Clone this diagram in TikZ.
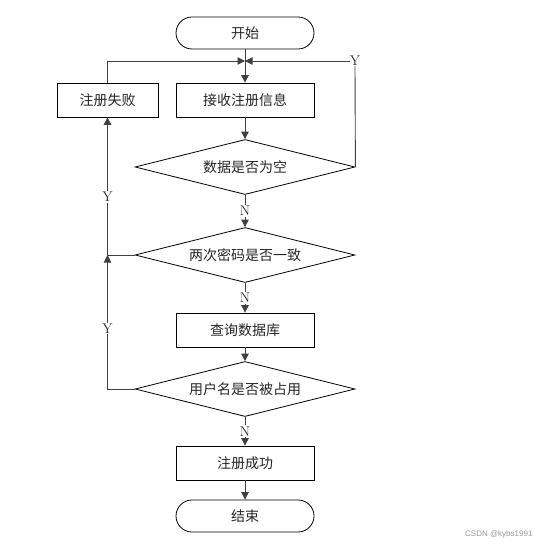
\documentclass[tikz,border=0pt]{standalone}
\usepackage{fontspec}
\newfontfamily\cjk{Noto Sans CJK SC}
\newfontfamily\wm{Liberation Sans}
\usetikzlibrary{shapes.geometric,arrows.meta}
\tikzset{
  base/.style={draw=black, line width=0.8pt, font=\cjk\fontsize{14}{16}\selectfont, text=black!85, inner sep=0pt},
  term/.style={base, rounded corners=16pt, minimum width=138pt, minimum height=32pt},
  proc/.style={base, rectangle, minimum width=138pt, minimum height=34pt},
  procs/.style={base, rectangle, minimum width=101pt, minimum height=34pt},
  dec/.style={base, diamond, aspect=4, minimum width=220pt, minimum height=55pt},
  conn/.style={draw=black!75, line width=0.9pt},
  arr/.style={conn, -{Triangle[length=7.5pt,width=7.5pt]}},
  lab/.style={font=\fontsize{14}{16}\selectfont, fill=white, inner sep=1pt, text=black!85},
}
\begin{document}
\begin{tikzpicture}[x=1pt,y=-1pt]
\useasboundingbox (0,0) rectangle (538,545);
\node[term] (start) at (245,33) {开始};
\coordinate (j1) at (245,61);
\node[proc] (recv) at (245,100) {接收注册信息};
\node[procs] (fail) at (107.5,100) {注册失败};
\node[dec] (d1) at (245,167) {数据是否为空};
\node[dec] (d2) at (245,255) {两次密码是否一致};
\node[proc] (query) at (245,330) {查询数据库};
\node[dec] (d3) at (245,389) {用户名是否被占用};
\node[proc] (succ) at (245,463) {注册成功};
\node[term] (end) at (245,516) {结束};
\node[lab, inner sep=0pt] (y1) at (355,61) {Y};
\coordinate (j2) at (107.5,255);
\coordinate (c3) at (107.5,389);

\draw[conn] (start.south) -- (j1);
\draw[arr] (j1) -- (recv.north);
\draw[arr] (fail.north) |- (j1);
\draw[conn] (d1.east) -- (y1.south);
\draw[arr] (y1.west) -- (j1);
\draw[arr] (recv.south) -- (d1.north);
\draw[arr] (d1.south) -- node[lab]{N} (d2.north);
\draw[arr] (d2.south) -- node[lab]{N} (query.north);
\draw[arr] (query.south) -- (d3.north);
\draw[arr] (d3.south) -- node[lab]{N} (succ.north);
\draw[arr] (succ.south) -- (end.north);
\draw[arr] (d2.west) -- (j2) -- node[lab, pos=0.42]{Y} (fail.south);
\draw[arr] (d3.west) -- (c3) -- node[lab, pos=0.45]{Y} (j2);
\node[font=\wm\fontsize{8}{10}\selectfont, text=black!40, anchor=east] (wm) at (536,534) {CSDN @kybs1991};
\end{tikzpicture}
\end{document}
